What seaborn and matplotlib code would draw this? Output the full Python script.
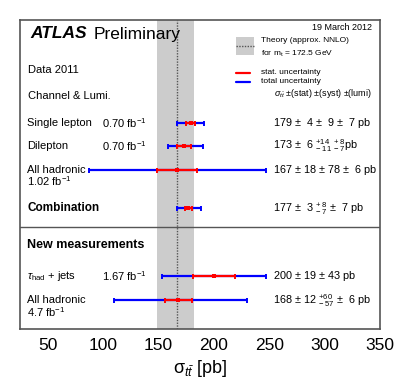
import numpy as np
import pandas as pd
import seaborn as sns
import matplotlib.pyplot as plt
from matplotlib.patches import Rectangle
from matplotlib.lines import Line2D

# ---------------------------------------------------------
# data
# ---------------------------------------------------------
channels = ["Single lepton", "Dilepton", "All hadronic", "Combination",
            r"$\tau_{\rm had}$ + jets", "All hadronic"]
lumis = [r"0.70 fb$^{-1}$", r"0.70 fb$^{-1}$", r"1.02 fb$^{-1}$", "",
         r"1.67 fb$^{-1}$", r"4.7 fb$^{-1}$"]
xsec = [179, 173, 167, 177, 200, 168]
stat = [4, 6, 18, 3, 19, 12]
tot_lo = [12, 14.5, 80, 10.5, 47, 58.5]
tot_hi = [12, 17, 80, 11, 47, 61.5]
values = [r"179 $\pm$  4 $\pm$  9 $\pm$  7 pb",
          r"173 $\pm$  6 ${}^{+14}_{-\ 11}\;{}^{+\ 8}_{-\ 7}$pb",
          r"167 $\pm$ 18 $\pm$ 78 $\pm$  6 pb",
          r"177 $\pm$  3 ${}^{+\ 8}_{-\ 7}$ $\pm$  7 pb",
          r"200 $\pm$ 19 $\pm$ 43 pb",
          r"168 $\pm$ 12 ${}^{+60}_{-\ 57}$ $\pm$  6 pb"]

theory_xsec = 166.5
theory_lo = 149
theory_hi = 182.5

# layout (pixel rows from top of figure)
row_y = [122.7, 145.7, 170, 208.3, 276, 300.3]
sep_y = 226.7

sns.set_theme(style="white")
plt.rcParams['font.family'] = ['Liberation Sans', 'DejaVu Sans']
plt.rcParams['mathtext.fontset'] = 'custom'
plt.rcParams['mathtext.rm'] = 'Liberation Sans'
plt.rcParams['mathtext.it'] = 'Liberation Sans:italic'
plt.rcParams['mathtext.bf'] = 'Liberation Sans:bold'
plt.rcParams['text.color'] = 'black'
plt.rcParams['xtick.color'] = 'black'
plt.rcParams['axes.labelcolor'] = 'black'

W, H = 400, 388
fig = plt.figure(figsize=(4, 3.88), dpi=100)
ax = fig.add_axes([20 / W, 1 - 329.3 / H, 360 / W, 309.3 / H])

df = pd.DataFrame({"xsec": xsec, "y": row_y})

# theory band
ax.axvspan(theory_lo, theory_hi, color="#cccccc", lw=0, zorder=0)
ax.axvline(theory_xsec, color="#555555", ls=(0, (1, 1)), lw=1, zorder=1)

# total and stat uncertainties
for i in range(len(xsec)):
    ax.errorbar(xsec[i], row_y[i], xerr=[[tot_lo[i]], [tot_hi[i]]], fmt="none",
                ecolor="blue", elinewidth=1.6, capsize=1.8, capthick=1.4, zorder=2)
    ax.errorbar(xsec[i], row_y[i], xerr=stat[i], fmt="none",
                ecolor="red", elinewidth=1.6, capsize=1.8, capthick=1.4, zorder=3)
sns.scatterplot(data=df, x="xsec", y="y", color="red", marker="s", s=12,
                edgecolor="red", linewidth=0, zorder=4, ax=ax, legend=False)

ax.axhline(sep_y, color="#555555", lw=1)

ax.set_xlim(25, 350)
ax.set_ylim(329.3, 20)
ax.set_xticks([50, 100, 150, 200, 250, 300, 350])
ax.set_yticks([])
ax.tick_params(axis="x", direction="in", length=10, width=1, color="#555555",
               labelcolor="black", labelsize=12.5, pad=6)
ax.set_xlabel(r"$\mathrm{\sigma}_{t\bar{t}}$ [pb]", fontsize=13, labelpad=4)
ax.set_ylabel("")
for s in ax.spines.values():
    s.set_color("#555555")
    s.set_linewidth(1.2)


def ftext(x, y, s, **kw):
    fig.text(x / W, 1 - y / H, s, va="center", **kw)


# titles
ftext(30, 34, "ATLAS", fontsize=12.5, fontweight="bold", fontstyle="italic")
ftext(94, 34, "Preliminary", fontsize=12.5)
ftext(372, 28, "19 March 2012", fontsize=6.5, ha="right")
ftext(28, 70, "Data 2011", fontsize=8)
ftext(28, 96, "Channel & Lumi.", fontsize=8)

# legend
fig.add_artist(Rectangle((236 / W, 1 - 55 / H), 18 / W, 17.7 / H,
                         transform=fig.transFigure, color="#cccccc", lw=0))
fig.add_artist(Line2D([236 / W, 254 / W], [1 - 46 / H, 1 - 46 / H],
                      transform=fig.transFigure, color="#555555", ls=(0, (1, 1)), lw=1))
fig.add_artist(Line2D([236 / W, 250 / W], [1 - 73.3 / H, 1 - 73.3 / H],
                      transform=fig.transFigure, color="red", lw=1.6))
fig.add_artist(Line2D([236 / W, 250 / W], [1 - 81.7 / H, 1 - 81.7 / H],
                      transform=fig.transFigure, color="blue", lw=1.6))
ftext(261, 41, "Theory (approx. NNLO)", fontsize=6)
ftext(261, 53.5, r"for m$_{\rm t}$ = 172.5 GeV", fontsize=6)
ftext(261, 73, "stat. uncertainty", fontsize=6)
ftext(261, 81.5, "total uncertainty", fontsize=6)
ftext(372, 94, r"$\sigma_{t\bar{t}}$ $\pm$(stat) $\pm$(syst) $\pm$(lumi)",
      fontsize=6.5, ha="right")

# channel labels
for i in range(len(channels)):
    bold = channels[i] == "Combination"
    if channels[i] == "All hadronic":
        ftext(27, row_y[i], channels[i], fontsize=8)
        ftext(27, row_y[i] + 11.5, lumis[i], fontsize=8)
    else:
        ftext(27, row_y[i], channels[i], fontsize=8.5 if bold else 8,
              fontweight="bold" if bold else "normal")
        if lumis[i]:
            ftext(102, row_y[i], lumis[i], fontsize=8)
    ftext(273, row_y[i], values[i], fontsize=7.8)

ftext(27, 245, "New measurements", fontsize=9, fontweight="bold")

fig.savefig("out.png", dpi=100)
